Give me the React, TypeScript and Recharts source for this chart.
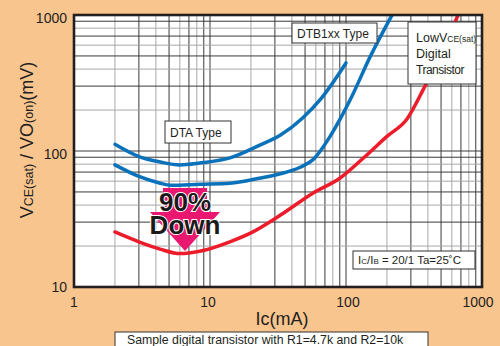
import React from "react";
import { LineChart, Line, XAxis, YAxis, CartesianGrid, ReferenceLine } from "recharts";

// ---- data ----
const icUpperBlue = [2, 3, 4.3, 6, 8.4, 14, 23, 33, 48, 66, 100];
const vUpperBlue = [112, 91, 83, 79, 81.6, 89, 110, 131, 175, 245, 444];

const icLowerBlue = [2, 3, 4.3, 5.1, 8.4, 14, 23, 33, 46, 57, 76, 90, 111, 150, 218];
const vLowerBlue = [79, 65, 58, 56, 57, 58, 63, 68, 76, 86, 127, 170, 255, 490, 1000];

const icRed = [2, 3, 4.3, 6, 8.4, 14, 20, 33, 57, 90, 133, 200, 281, 381, 500, 666];
const vRed = [25.4, 21.5, 19, 17.6, 18.3, 21.5, 25, 33.8, 49, 63, 88, 128, 172, 300, 510, 1000];

const xTicks = [1, 10, 100, 1000];
const yTicks = [10, 100, 1000];
const xGrid = [2, 3, 4, 5, 6, 7, 8, 9, 10, 20, 30, 40, 50, 60, 70, 80, 90, 100, 200, 300, 400, 500, 600, 700, 800, 900];
const yGrid = [20, 30, 40, 50, 60, 70, 80, 90, 100, 200, 300, 400, 500, 600, 700, 800, 900];

const toData = (xs: number[], ys: number[]) => xs.map((x, i) => ({ x, v: ys[i] }));
const upperData = toData(icUpperBlue, vUpperBlue);
const lowerData = toData(icLowerBlue, vLowerBlue);
const redData = toData(icRed, vRed);

const FONT = "'Liberation Sans', Arial, Helvetica, sans-serif";
const INK = "#231f20";
const BLUE = "#0a72bb";
const RED = "#ec1c2b";
const PINK = "#e9176f";
const BG = "#f9c58e";

const lead = (v: number) => Math.round(v / Math.pow(10, Math.floor(Math.log10(v) + 1e-9)));
const gridColor = (v: number) => (lead(v) === 1 || lead(v) % 2 === 1 ? "#3a3a3a" : "#a8a8a8");

const YTick = (props: any) => {
  const { x, y, payload } = props;
  const shift = payload.value > 10 ? 3 : 0;
  return (
    <text x={x} y={y + shift} dy="0.355em" textAnchor="end" fontSize={14} fontFamily={FONT} fill={INK}>
      {payload.value}
    </text>
  );
};

const XTick = (props: any) => {
  const { x, y, payload } = props;
  const dx = payload.value === 1000 ? -4 : payload.value === 10 ? -2 : payload.value === 100 ? 2 : 0;
  return (
    <text x={x + dx} y={y} dy="0.71em" textAnchor="middle" fontSize={14} fontFamily={FONT} fill={INK}>
      {payload.value}
    </text>
  );
};

export default function App() {
  return (
    <div style={{ position: "absolute", left: 0, top: 0, width: 500, height: 346, background: BG, overflow: "hidden" }}>
      <LineChart width={500} height={346} data={redData} margin={{ top: 15, right: 18, bottom: 29, left: 14 }}>
        <CartesianGrid horizontal={false} vertical={false} fill="#ffffff" />
        {xGrid.map((g) => (
          <ReferenceLine key={"gx" + g} x={g} stroke={gridColor(g)} strokeWidth={1} />
        ))}
        {yGrid.map((g) => (
          <ReferenceLine key={"gy" + g} y={g} stroke={gridColor(g)} strokeWidth={1} />
        ))}
        <XAxis
          dataKey="x"
          type="number"
          scale="log"
          domain={[1, 1000]}
          ticks={xTicks}
          allowDataOverflow
          axisLine={false}
          tickLine={false}
          tickSize={0}
          tickMargin={10}
          height={30}
          tick={<XTick />}
          interval={0}
        />
        <YAxis
          type="number"
          scale="log"
          domain={[10, 1000]}
          ticks={yTicks}
          allowDataOverflow
          axisLine={false}
          tickLine={false}
          tickSize={0}
          tickMargin={7}
          width={60}
          tick={<YTick />}
          interval={0}
        />
        <Line data={upperData} dataKey="v" type="monotone" stroke={BLUE} strokeWidth={3.5} dot={false} isAnimationActive={false} strokeLinecap="round" />
        <Line data={lowerData} dataKey="v" type="monotone" stroke={BLUE} strokeWidth={3.5} dot={false} isAnimationActive={false} strokeLinecap="round" />
        <Line data={redData} dataKey="v" type="monotone" stroke={RED} strokeWidth={3.5} dot={false} isAnimationActive={false} strokeLinecap="round" />
      </LineChart>

      <svg width={500} height={346} style={{ position: "absolute", left: 0, top: 0, pointerEvents: "none" }} fontFamily={FONT}>
        {/* plot frame */}
        <rect x={74} y={15} width={408} height={272} fill="none" stroke={INK} strokeWidth={2.6} />

        {/* axis titles */}
        <text x={33} y={140} transform="rotate(-90 33 140)" textAnchor="middle" fill={INK} fontSize={18}>
          <tspan>V</tspan>
          <tspan fontSize={12.5}>CE(sat)</tspan>
          <tspan> / VO</tspan>
          <tspan fontSize={12.5}>(on)</tspan>
          <tspan>(mV)</tspan>
        </text>
        <text x={282} y={325} textAnchor="middle" fill={INK} fontSize={18}>Ic(mA)</text>

        {/* labels */}
        <rect x={165} y={121} width={66} height={22} fill="#fff" stroke="#333" strokeWidth={1} />
        <text x={170} y={137} fontSize={12} fill={INK}>DTA Type</text>

        <rect x={292} y={23} width={85} height={20} fill="#fff" stroke="#333" strokeWidth={1} />
        <text x={297} y={38} fontSize={12} fill={INK}>DTB1xx Type</text>

        <rect x={408} y={22} width={68} height={62} fill="#fff" stroke="#333" strokeWidth={1} />
        <text x={416} y={42} fontSize={12.5} fill={INK}>
          <tspan>LowV</tspan>
          <tspan fontSize={8.5}>CE(sat)</tspan>
        </text>
        <text x={416} y={58} fontSize={12.5} fill={INK}>Digital</text>
        <text x={416} y={74} fontSize={12} letterSpacing={-0.5} fill={INK}>Transistor</text>

        <rect x={353} y={251} width={122} height={18} fill="#fff" stroke="#333" strokeWidth={1} />
        <text x={358} y={264} fontSize={11.5} fill={INK}>
          <tspan>I</tspan>
          <tspan fontSize={8}>C</tspan>
          <tspan>/I</tspan>
          <tspan fontSize={8}>B</tspan>
          <tspan> = 20/1  Ta=25˚C</tspan>
        </text>

        {/* 90% Down arrow */}
        <polygon points="163,188 207,188 207,212 220,212 185,251 150,212 163,212" fill={PINK} />
        <text x={185} y={211} textAnchor="middle" fontSize={26} fontWeight="bold" fill="#1a1a1a" stroke="#fff" strokeWidth={2} style={{ paintOrder: "stroke" }}>90%</text>
        <text x={185} y={234} textAnchor="middle" fontSize={26} fontWeight="bold" fill="#1a1a1a" stroke="#fff" strokeWidth={2} style={{ paintOrder: "stroke" }}>Down</text>

        {/* bottom note */}
        <rect x={115} y={332} width={313} height={20} fill="#fff" stroke="#333" strokeWidth={1} />
        <text x={127} y={344} fontSize={12.3} fill={INK}>Sample digital transistor with R1=4.7k  and R2=10k</text>
      </svg>
    </div>
  );
}
